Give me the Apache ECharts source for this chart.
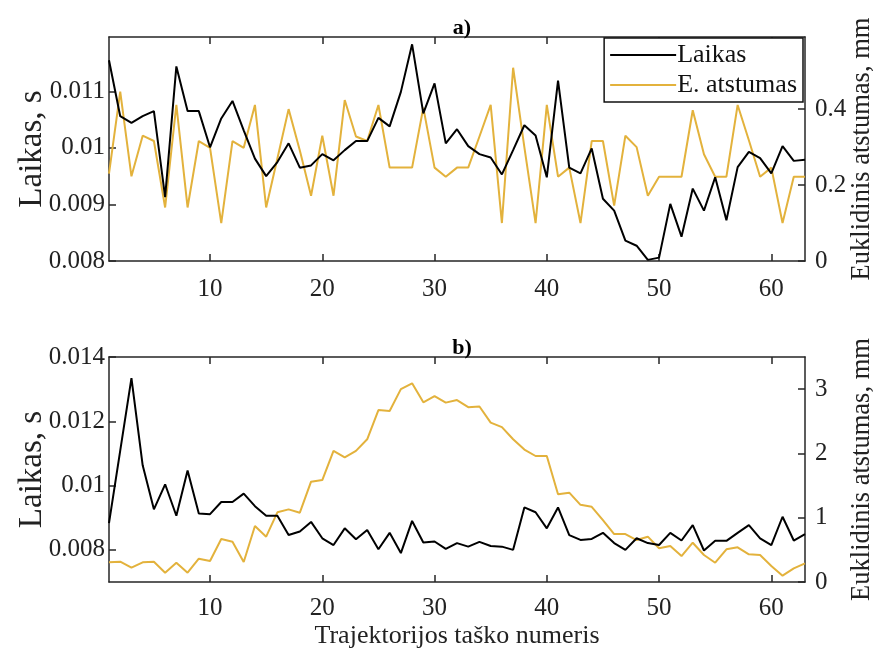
<!DOCTYPE html>
<html>
<head>
<meta charset="utf-8">
<script src="https://cdn.jsdelivr.net/npm/echarts@6/dist/echarts.min.js"></script>
<style>html,body{margin:0;padding:0;background:#fff}#c{width:880px;height:650px}</style>
</head>
<body>
<div id="c"></div>
<script>
// point numbers 1..63
const points = Array.from({length: 63}, (_, i) => i + 1);

const laikasA = [0.01155,0.01056,0.01044,0.01056,0.01065,0.00913,0.01144,0.01065,0.01065,0.01001,
  0.01052,0.01083,0.01031,0.00981,0.0095,0.00975,0.01008,0.00965,0.00969,0.00989,
  0.00978,0.00996,0.01012,0.01012,0.01053,0.01038,0.01099,0.01183,0.01061,0.01114,
  0.01008,0.01033,0.01003,0.00989,0.00983,0.00953,0.00996,0.0104,0.01022,0.00948,
  0.01119,0.00965,0.00955,0.00999,0.0091,0.00889,0.00836,0.00827,0.00802,0.00806,
  0.00901,0.00843,0.00928,0.00889,0.00948,0.00872,0.00966,0.00993,0.00982,0.00955,
  0.01003,0.00977,0.00979];

const atstumasA = [0.23,0.446,0.223,0.33,0.316,0.141,0.411,0.141,0.316,0.298,
  0.1,0.316,0.298,0.411,0.141,0.27,0.40,0.291,0.172,0.33,
  0.172,0.424,0.328,0.316,0.411,0.246,0.246,0.246,0.404,0.246,
  0.222,0.246,0.246,0.328,0.411,0.1,0.509,0.30,0.1,0.411,
  0.222,0.246,0.1,0.316,0.316,0.146,0.33,0.30,0.172,0.222,
  0.222,0.222,0.397,0.281,0.222,0.222,0.411,0.318,0.222,0.246,
  0.1,0.222,0.222];

const laikasB = [0.00883,0.01109,0.01334,0.01063,0.00926,0.01004,0.00906,0.01047,0.00913,0.00911,
  0.00949,0.00949,0.00975,0.00936,0.00906,0.00906,0.00846,0.00857,0.00887,0.00836,
  0.00815,0.00867,0.00833,0.00862,0.00802,0.00853,0.0079,0.0089,0.00823,0.00826,
  0.00803,0.00821,0.0081,0.00825,0.00812,0.0081,0.008,0.00932,0.00917,0.00867,
  0.00932,0.00846,0.00831,0.00834,0.00853,0.00821,0.008,0.00836,0.00821,0.00815,
  0.00853,0.00829,0.00877,0.00798,0.00828,0.00828,0.00853,0.00877,0.00836,0.00815,
  0.00903,0.00829,0.00849];

const atstumasB = [0.306,0.316,0.223,0.306,0.316,0.145,0.30,0.145,0.363,0.327,
  0.669,0.627,0.311,0.871,0.705,1.084,1.13,1.078,1.56,1.586,
  2.04,1.94,2.04,2.22,2.675,2.66,3.0,3.09,2.795,2.89,
  2.79,2.83,2.72,2.73,2.48,2.41,2.22,2.06,1.96,1.96,
  1.364,1.39,1.2,1.17,0.964,0.746,0.746,0.653,0.705,0.524,
  0.56,0.404,0.611,0.42,0.30,0.508,0.54,0.43,0.42,0.249,
  0.098,0.213,0.29];

const xTicks = [10, 20, 30, 40, 50, 60];
const leftTicksA = [0.008, 0.009, 0.01, 0.011];
const rightTicksA = [0, 0.2, 0.4];
const leftTicksB = [0.008, 0.01, 0.012, 0.014];
const rightTicksB = [0, 1, 2, 3];

const panelTitles = ['a)', 'b)'];
const seriesNames = ['Laikas', 'E. atstumas'];
const yNameLeft = 'Laikas, s';
const yNameRight = 'Euklidinis atstumas, mm';
const xName = 'Trajektorijos taško numeris';

const FONT = '"Liberation Serif", "Times New Roman", serif';
const AX = '#262626';
const BLACK = '#000000';
const YEL = '#E3B23C';

function pairs(arr) { return arr.map((v, i) => [points[i], v]); }

function xAx(gi, pos, labels) {
  return {
    type: 'value', gridIndex: gi, position: pos, min: 1, max: 63,
    name: labels ? (gi === 1 ? xName : '') : '',
    nameLocation: 'middle', nameGap: 41, nameMoveOverlap: false,
    nameTextStyle: {fontFamily: FONT, fontSize: 26, color: '#222'},
    axisLine: {show: true, onZero: false, lineStyle: {color: AX, width: 1.5}},
    axisTick: {show: true, inside: true, length: 7, customValues: xTicks, lineStyle: {color: AX, width: 1.5}},
    axisLabel: {show: labels, customValues: xTicks, margin: gi === 0 ? 16 : 14, fontFamily: FONT, fontSize: 25, color: '#222'},
    splitLine: {show: false}
  };
}

function yAx(gi, pos, min, max, ticks, name, gap, nameSize) {
  return {
    type: 'value', gridIndex: gi, position: pos, min: min, max: max,
    name: name, nameLocation: 'middle', nameGap: gap, nameRotate: 90, nameMoveOverlap: false,
    nameTextStyle: {fontFamily: FONT, fontSize: nameSize, color: '#222'},
    axisLine: {show: true, onZero: false, lineStyle: {color: AX, width: 1.5}},
    axisTick: {show: true, inside: true, length: 7, customValues: ticks, lineStyle: {color: AX, width: 1.5}},
    axisLabel: {customValues: ticks, margin: pos === 'left' ? 4 : 10, fontFamily: FONT, fontSize: 25, color: '#222'},
    splitLine: {show: false}
  };
}

const chart = echarts.init(document.getElementById('c'), null, {renderer: 'canvas'});
chart.setOption({
  animation: false,
  backgroundColor: '#fff',
  title: [
    {text: panelTitles[0], left: 457, top: 12, textAlign: 'center',
     textStyle: {fontFamily: FONT, fontSize: 22, fontWeight: 'bold', color: '#000'}},
    {text: panelTitles[1], left: 457, top: 332, textAlign: 'center',
     textStyle: {fontFamily: FONT, fontSize: 22, fontWeight: 'bold', color: '#000'}}
  ],
  grid: [
    {left: 109, top: 37, width: 696, height: 224, outerBoundsMode: 'none', containLabel: false},
    {left: 109, top: 357, width: 696, height: 225, outerBoundsMode: 'none', containLabel: false}
  ],
  legend: {
    data: seriesNames.map(n => ({name: n, icon: 'rect'})),
    orient: 'vertical', right: 77, top: 38,
    backgroundColor: '#fff', borderColor: '#111', borderWidth: 1.5, borderRadius: 0,
    padding: [4, 6, 4, 6], itemGap: 4, itemWidth: 66, itemHeight: 2,
    textStyle: {fontFamily: FONT, fontSize: 26, color: '#111', padding: [0, 0, 0, -4], height: 26, lineHeight: 26}
  },
  xAxis: [xAx(0, 'bottom', true), xAx(0, 'top', false), xAx(1, 'bottom', true), xAx(1, 'top', false)],
  yAxis: [
    yAx(0, 'left', 0.008, 0.01196, leftTicksA, yNameLeft, 60, 33),
    yAx(0, 'right', 0, 0.59, rightTicksA, yNameRight, 44, 26.5),
    yAx(1, 'left', 0.007, 0.014, leftTicksB, yNameLeft, 60, 33),
    yAx(1, 'right', 0, 3.5, rightTicksB, yNameRight, 44, 26.5)
  ],
  series: [
    {name: seriesNames[0], type: 'line', xAxisIndex: 0, yAxisIndex: 0, data: pairs(laikasA),
     symbol: 'none', lineStyle: {color: BLACK, width: 2}, itemStyle: {color: BLACK}, z: 3},
    {name: seriesNames[1], type: 'line', xAxisIndex: 0, yAxisIndex: 1, data: pairs(atstumasA),
     symbol: 'none', lineStyle: {color: YEL, width: 2}, itemStyle: {color: YEL}, z: 2},
    {name: seriesNames[0], type: 'line', xAxisIndex: 2, yAxisIndex: 2, data: pairs(laikasB),
     symbol: 'none', lineStyle: {color: BLACK, width: 2}, itemStyle: {color: BLACK}, z: 3},
    {name: seriesNames[1], type: 'line', xAxisIndex: 2, yAxisIndex: 3, data: pairs(atstumasB),
     symbol: 'none', lineStyle: {color: YEL, width: 2}, itemStyle: {color: YEL}, z: 2}
  ]
});
</script>
</body>
</html>
